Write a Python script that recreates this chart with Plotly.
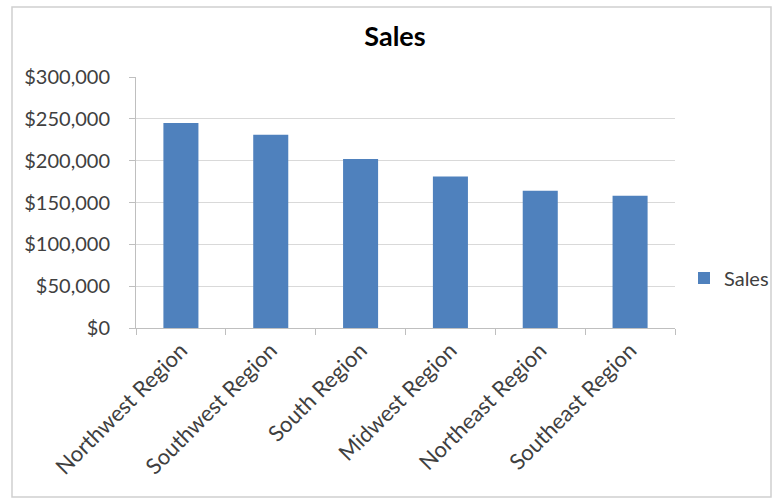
import plotly.graph_objects as go

# Regional sales figures
regions = [
    "Northwest Region",
    "Southwest Region",
    "South Region",
    "Midwest Region",
    "Northeast Region",
    "Southeast Region",
]
sales = [245000, 231000, 202000, 181000, 164000, 158000]

series_name = "Sales"
chart_title = "Sales"
y_ticks = [0, 50000, 100000, 150000, 200000, 250000, 300000]
y_tick_labels = [f"${v:,}" for v in y_ticks]

BAR_COLOR = "#4f81bd"
GRID_COLOR = "#d9d9d9"
AXIS_COLOR = "#bfbfbf"
TEXT_COLOR = "#404040"
FONT = "Lato, 'Open Sans', sans-serif"

fig = go.Figure()
fig.add_trace(
    go.Bar(
        x=regions,
        y=sales,
        name=series_name,
        marker=dict(color=BAR_COLOR, line=dict(width=0)),
        showlegend=True,
    )
)

W, H = 773, 500
L, R, T, B = 136, 98, 77, 172
pw = W - L - R
ph = H - T - B


def px_x(x):
    return (x - L) / pw


def px_y(y):
    return (H - B - y) / ph


fig.update_layout(
    width=W,
    height=H,
    margin=dict(l=L, r=R, t=T, b=B, pad=0, autoexpand=False),
    paper_bgcolor="white",
    plot_bgcolor="white",
    font=dict(family=FONT, size=19, color=TEXT_COLOR),
    bargap=0.61,
    title=dict(
        text="<b>" + chart_title + "</b>",
        x=px_x(395),
        xref="paper",
        xanchor="center",
        y=1 - 37 / H,
        yanchor="middle",
        font=dict(family=FONT, size=27, color="#000000"),
    ),
    legend=dict(
        xref="container",
        yref="container",
        x=684 / W,
        y=1 - 278 / H,
        xanchor="left",
        yanchor="middle",
        font=dict(family=FONT, size=20, color=TEXT_COLOR),
        itemwidth=30,
        bgcolor="rgba(0,0,0,0)",
    ),
    shapes=[
        dict(
            type="rect",
            xref="paper",
            yref="paper",
            x0=px_x(12),
            x1=px_x(771),
            y0=px_y(497),
            y1=px_y(7),
            line=dict(color="#d0d0d0", width=1.5),
            fillcolor="rgba(0,0,0,0)",
            layer="below",
        )
    ],
)

fig.update_xaxes(
    type="category",
    tickangle=-45,
    showgrid=False,
    showline=True,
    linecolor=AXIS_COLOR,
    linewidth=1,
    ticks="outside",
    tickson="boundaries",
    ticklen=6,
    tickcolor=AXIS_COLOR,
    tickfont=dict(family=FONT, size=22, color=TEXT_COLOR),
    automargin=False,
    fixedrange=True,
)

fig.update_yaxes(
    range=[0, 300000],
    tickmode="array",
    tickvals=y_ticks,
    ticktext=y_tick_labels,
    showgrid=True,
    gridcolor=GRID_COLOR,
    gridwidth=1,
    zeroline=False,
    showline=True,
    linecolor=AXIS_COLOR,
    linewidth=1,
    ticks="outside",
    ticklen=6,
    tickcolor=AXIS_COLOR,
    ticklabelstandoff=15,
    tickfont=dict(family=FONT, size=20, color=TEXT_COLOR),
    automargin=False,
    fixedrange=True,
)

fig.write_html("out.html")
